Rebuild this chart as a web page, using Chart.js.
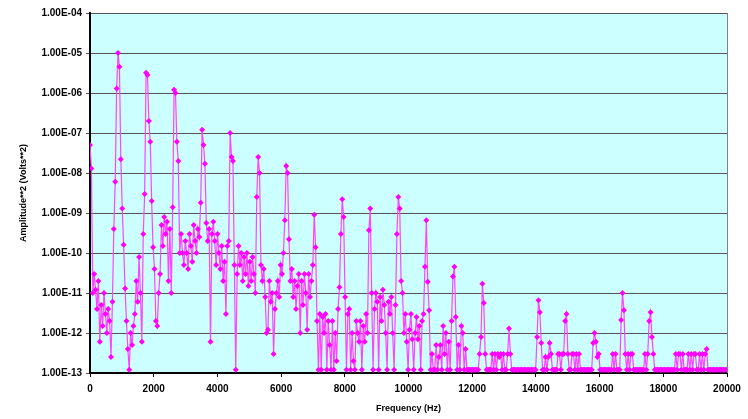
<!DOCTYPE html>
<html>
<head>
<meta charset="utf-8">
<script src="https://cdn.jsdelivr.net/npm/chart.js@4"></script>
<style>
  html, body { margin: 0; padding: 0; background: #fff; }
  #spectrum { display: block; }
</style>
</head>
<body>
<canvas id="spectrum" width="748" height="419"></canvas>
<script>
// FFT bin width (Hz) and amplitude of each bin
const binHz = 44;
const amplitude = [
  5e-8, 1.3e-8, 1e-11, 3e-11, 1.2e-11, 4e-12, 2e-11, 6e-13, 5e-12, 1.5e-12,
  1e-11, 3e-12, 1e-12, 4e-12, 2e-12, 2.5e-13, 6e-12, 4e-10, 6e-9, 1.3e-6,
  1e-5, 4.5e-6, 2.2e-8, 1.3e-9, 1.6e-10, 1.3e-11, 2e-12, 4e-13, 1.2e-13, 1e-12,
  5e-13, 1.5e-12, 3e-12, 2e-11, 6e-12, 8e-11, 1e-11, 6e-13, 3e-10, 3e-9,
  3.2e-6, 2.8e-6, 2e-7, 6e-8, 2e-9, 1.4e-10, 4e-11, 2e-12, 1.5e-12, 1e-11,
  3e-11, 5e-10, 1.5e-10, 8e-10, 3e-10, 6e-10, 2e-11, 4e-10, 1e-11, 1.4e-9,
  1.2e-6, 1e-6, 6e-8, 2e-8, 1e-10, 3e-10, 1e-10, 5e-11, 2e-10, 1e-10,
  4e-11, 3e-10, 1.5e-10, 6e-11, 5e-10, 2e-10, 1e-10, 4e-10, 2.5e-10, 1.8e-9,
  1.2e-7, 5e-8, 1.7e-8, 5.6e-10, 2e-10, 4e-10, 6e-13, 3e-10, 6e-10, 2e-10,
  5e-11, 3e-10, 1e-10, 4e-11, 1.5e-10, 2e-11, 6e-11, 3e-12, 1.5e-10, 2e-10,
  1e-7, 2.5e-8, 2e-8, 5e-11, 1.2e-13, 3e-11, 1.5e-10, 5e-11, 1e-10, 2e-11,
  8e-11, 3e-11, 1e-10, 1.5e-11, 6e-11, 2e-11, 8e-11, 3e-11, 1e-11, 2.5e-9,
  2.5e-8, 1e-8, 5e-11, 2e-11, 4e-11, 8e-12, 1e-12, 1.2e-12, 2e-11, 6e-12,
  1e-11, 3e-13, 4e-12, 1e-11, 2e-11, 8e-12, 5e-11, 3e-11, 1e-10, 6.6e-10,
  1.5e-8, 1e-8, 2.2e-10, 2e-11, 4e-11, 8e-12, 2e-11, 4e-12, 1.5e-11, 3e-11,
  1e-12, 2e-11, 5e-12, 3e-11, 1e-11, 1.2e-12, 3e-11, 8e-12, 2e-11, 5e-11,
  9e-10, 1.4e-10, 2e-12, 1.2e-13, 3e-12, 1.2e-13, 2.5e-12, 1e-12, 3e-12, 1.2e-13,
  2e-12, 5e-13, 1.2e-13, 2e-12, 1.2e-13, 1e-12, 2e-13, 4e-12, 1.4e-11, 3e-10,
  2.2e-9, 8e-10, 8e-12, 1.2e-13, 3e-12, 4e-12, 1.2e-13, 1e-12, 2e-13, 1.2e-13,
  2e-12, 1e-12, 6e-13, 2e-12, 1.2e-13, 1.5e-12, 6e-13, 3e-12, 1e-12, 3.7e-10,
  1.3e-9, 1e-11, 1.2e-13, 4e-12, 1e-11, 6e-12, 1.2e-13, 8e-12, 2e-12, 1.2e-11,
  5e-12, 1e-12, 1.2e-13, 6e-12, 3e-12, 8e-12, 1e-12, 1.2e-13, 5e-12, 3e-10,
  2.5e-9, 1.3e-9, 2e-11, 1e-11, 1e-12, 3e-12, 6e-13, 1.2e-13, 1.2e-12, 3e-12,
  7e-13, 1.2e-13, 1e-12, 2.5e-12, 7e-13, 1.5e-12, 1.2e-13, 2e-12, 3e-12, 4.5e-11,
  6.6e-10, 1.9e-11, 3.7e-12, 1.2e-13, 3e-13, 1.2e-13, 1.2e-13, 5e-13, 1.2e-13, 2.5e-13,
  5e-13, 1.2e-13, 1.5e-12, 3e-13, 1e-12, 1.2e-13, 6e-13, 1.2e-13, 2e-12, 2.6e-11,
  4.5e-11, 2.5e-12, 1.2e-13, 5e-13, 1.2e-13, 1.5e-12, 1e-12, 1.2e-13, 4e-13, 1.2e-13,
  1.2e-13, 1.2e-13, 1.2e-13, 1.2e-13, 1.2e-13, 1.2e-13, 1.2e-13, 1.2e-13, 3e-13, 8e-13,
  1.7e-11, 5.6e-12, 3e-13, 1.2e-13, 1.2e-13, 1.2e-13, 1.2e-13, 3e-13, 1.2e-13, 3e-13,
  1.2e-13, 3e-13, 2.5e-13, 3e-13, 1.2e-13, 3e-13, 1.2e-13, 1.2e-13, 3e-13, 1.3e-12,
  3e-13, 1.2e-13, 1.2e-13, 1.2e-13, 1.2e-13, 1.2e-13, 1.2e-13, 1.2e-13, 1.2e-13, 1.2e-13,
  1.2e-13, 1.2e-13, 1.2e-13, 1.2e-13, 1.2e-13, 1.2e-13, 1.2e-13, 1.2e-13, 1.2e-13, 8e-13,
  6.6e-12, 3.3e-12, 5.6e-13, 1.2e-13, 1.2e-13, 2.5e-13, 1.2e-13, 2.5e-13, 5.6e-13, 3e-13,
  1.2e-13, 1.2e-13, 1.2e-13, 1.2e-13, 3e-13, 3e-13, 1.2e-13, 3e-13, 3e-13, 2e-12,
  3e-12, 3e-13, 1.2e-13, 1.2e-13, 3e-13, 3e-13, 1.2e-13, 3e-13, 1.2e-13, 3e-13,
  1.2e-13, 1.2e-13, 1.2e-13, 1.2e-13, 1.2e-13, 1.2e-13, 1.2e-13, 1.2e-13, 1.2e-13, 5.6e-13,
  1e-12, 6e-13, 2.5e-13, 3e-13, 1.2e-13, 1.2e-13, 1.2e-13, 1.2e-13, 1.2e-13, 1.2e-13,
  1.2e-13, 1.2e-13, 1.2e-13, 3e-13, 1.2e-13, 3e-13, 1.2e-13, 1.2e-13, 1.2e-13, 2.1e-12,
  1e-11, 3.7e-12, 3e-13, 1.2e-13, 3e-13, 1.2e-13, 3e-13, 3e-13, 1.2e-13, 1.2e-13,
  1.2e-13, 1.2e-13, 1.2e-13, 1.2e-13, 1.2e-13, 1.2e-13, 3e-13, 1.2e-13, 3e-13, 2e-12,
  3.3e-12, 8e-13, 3e-13, 1.2e-13, 1.2e-13, 1.2e-13, 1.2e-13, 1.2e-13, 1.2e-13, 1.2e-13,
  1.2e-13, 1.2e-13, 1.2e-13, 1.2e-13, 1.2e-13, 1.2e-13, 1.2e-13, 1.2e-13, 3e-13, 1.2e-13,
  3e-13, 3e-13, 1.2e-13, 3e-13, 1.2e-13, 1.2e-13, 1.2e-13, 3e-13, 1.2e-13, 3e-13,
  1.2e-13, 3e-13, 3e-13, 1.2e-13, 1.2e-13, 3e-13, 1.2e-13, 3e-13, 1.2e-13, 3e-13,
  4e-13, 1.2e-13, 1.2e-13, 1.2e-13, 1.2e-13, 1.2e-13, 1.2e-13, 1.2e-13, 1.2e-13, 1.2e-13,
  1.2e-13, 1.2e-13, 1.2e-13, 1.2e-13, 1.2e-13
];
const frequency = amplitude.map((_, i) => i * binHz);

const yTickValues = [1e-13, 1e-12, 1e-11, 1e-10, 1e-9, 1e-8, 1e-7, 1e-6, 1e-5, 1e-4];
const yTickLabels = ['1.00E-13', '1.00E-12', '1.00E-11', '1.00E-10', '1.00E-09',
                     '1.00E-08', '1.00E-07', '1.00E-06', '1.00E-05', '1.00E-04'];
const xTickStep = 2000;

const plotBackground = {
  id: 'plotBackground',
  beforeDraw(chart) {
    const { ctx, chartArea: a } = chart;
    ctx.save();
    ctx.fillStyle = '#ccffff';
    ctx.fillRect(a.left, a.top, a.right - a.left, a.bottom - a.top);
    ctx.restore();
  },
  beforeDatasetsDraw(chart) {
    const { ctx, chartArea: a } = chart;
    ctx.save();
    ctx.strokeStyle = '#808080';
    ctx.lineWidth = 1;
    ctx.beginPath();
    ctx.moveTo(a.right + 0.5, a.top);
    ctx.lineTo(a.right + 0.5, a.bottom);
    ctx.stroke();
    ctx.restore();
  }
};

const tickFont = { family: 'Liberation Sans, Arial', size: 10, weight: 'bold' };
const titleFont = { family: 'Liberation Sans, Arial', size: 9, weight: 'bold' };

new Chart(document.getElementById('spectrum'), {
  type: 'line',
  data: {
    datasets: [{
      data: frequency.map((f, i) => ({ x: f, y: amplitude[i] })),
      borderColor: '#ff44ff',
      borderWidth: 1.2,
      pointStyle: 'rectRot',
      pointRadius: 3,
      pointBackgroundColor: '#ff00ff',
      pointBorderColor: '#ff00ff',
      pointBorderWidth: 0,
      tension: 0
    }]
  },
  options: {
    responsive: false,
    animation: false,
    devicePixelRatio: 1,
    layout: { padding: { left: 0, top: 13, right: 21, bottom: 0 } },
    plugins: {
      legend: { display: false },
      tooltip: { enabled: false }
    },
    scales: {
      x: {
        type: 'linear',
        min: 0,
        max: 20000,
        afterFit: s => { s.height = 46; },
        ticks: {
          stepSize: xTickStep,
          color: '#000',
          font: tickFont,
          padding: 6,
          maxRotation: 0,
          callback: (v) => String(v)
        },
        grid: { drawOnChartArea: false, drawTicks: true, tickLength: 4, color: '#000', lineWidth: 1 },
        border: { color: '#000', width: 2 },
        title: {
          display: true,
          text: 'Frequency (Hz)',
          color: '#000',
          font: titleFont,
          padding: { top: 0, bottom: 5 }
        }
      },
      y: {
        type: 'logarithmic',
        min: 1e-13,
        max: 1e-4,
        afterFit: s => { s.width = 90; },
        afterBuildTicks: s => { s.ticks = yTickValues.map(v => ({ value: v })); },
        ticks: {
          color: '#000',
          font: tickFont,
          padding: 4,
          callback: (v) => yTickLabels[yTickValues.findIndex(t => Math.abs(Math.log10(t) - Math.log10(v)) < 1e-6)]
        },
        grid: { color: '#555', lineWidth: 1, tickLength: 4 },
        border: { color: '#000', width: 2 },
        title: {
          display: true,
          text: 'Amplitude**2 (Volts**2)',
          color: '#000',
          font: titleFont,
          padding: { top: 18, bottom: 0 }
        }
      }
    }
  },
  plugins: [plotBackground]
});
</script>
</body>
</html>
